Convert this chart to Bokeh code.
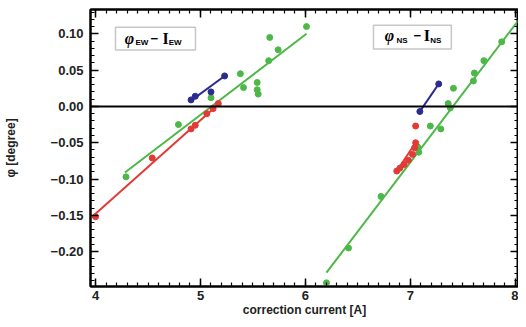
from bokeh.plotting import figure
from bokeh.models import (Range1d, LinearAxis, SingleIntervalTicker, Span,
                          BoxAnnotation, Label, CustomJSTickFormatter)
from bokeh.embed import file_html
from bokeh.resources import INLINE

# ---------------- data ----------------
# EW measurements
ew_red_x = [4.00, 4.54, 4.91, 4.95, 5.06, 5.12, 5.17]
ew_red_y = [-0.152, -0.071, -0.031, -0.026, -0.010, -0.003, 0.004]
ew_blue_x = [4.91, 4.95, 5.10, 5.23]
ew_blue_y = [0.009, 0.014, 0.020, 0.042]
ew_green_x = [4.29, 4.79, 5.10, 5.38, 5.41, 5.54, 5.54, 5.55, 5.65, 5.66, 5.74, 6.01]
ew_green_y = [-0.097, -0.025, 0.012, 0.045, 0.026, 0.033, 0.023, 0.017, 0.063, 0.095, 0.078, 0.110]

# NS measurements
ns_red_x = [6.87, 6.90, 6.94, 6.98, 7.02, 7.04, 7.05, 7.05]
ns_red_y = [-0.089, -0.085, -0.080, -0.074, -0.066, -0.057, -0.050, -0.027]
ns_blue_x = [7.09, 7.27]
ns_blue_y = [-0.007, 0.031]
ns_green_x = [6.20, 6.41, 6.72, 7.07, 7.08, 7.19, 7.29, 7.36, 7.38, 7.41, 7.60, 7.61, 7.70, 7.87, 8.09]
ns_green_y = [-0.243, -0.195, -0.124, -0.056, -0.063, -0.027, -0.031, 0.004, -0.002, 0.025,
              0.035, 0.046, 0.063, 0.089, 0.109]

# fitted lines (end points)
fit_ew_red_x = [3.96, 5.17]
fit_ew_red_y = [-0.153, 0.003]
fit_ew_blue_x = [4.91, 5.23]
fit_ew_blue_y = [0.008, 0.042]
fit_ew_green_x = [4.28, 6.01]
fit_ew_green_y = [-0.091, 0.100]
fit_ns_red_x = [6.86, 7.05]
fit_ns_red_y = [-0.091, -0.050]
fit_ns_blue_x = [7.09, 7.27]
fit_ns_blue_y = [-0.007, 0.031]
fit_ns_green_x = [6.20, 8.10]
fit_ns_green_y = [-0.229, 0.132]

x_label = "correction current [A]"
y_label = "φ [degree]"

RED = "#e23a36"
GREEN = "#4db848"
BLUE = "#2c2c8e"
FONT = "Liberation Sans"

p = figure(width=518, height=319,
           x_range=Range1d(3.952, 8.03), y_range=Range1d(-0.248, 0.1335),
           output_backend="svg", toolbar_location=None,
           min_border_left=90, min_border_top=9, min_border_right=0, min_border_bottom=0)
p.xgrid.visible = False
p.ygrid.visible = False
p.outline_line_color = "black"
p.outline_line_width = 2
p.background_fill_color = "white"
p.border_fill_color = "white"

xt = SingleIntervalTicker(interval=1, num_minor_ticks=10)
yt = SingleIntervalTicker(interval=0.05, num_minor_ticks=5)

def style_axis(ax, labels=True):
    ax.axis_line_color = "black"
    ax.axis_line_width = 2
    ax.major_tick_in = 8
    ax.major_tick_out = 0
    ax.minor_tick_in = 4
    ax.minor_tick_out = 0
    ax.major_tick_line_width = 1.5
    ax.minor_tick_line_width = 1.2
    ax.major_tick_line_color = "black"
    ax.minor_tick_line_color = "black"
    if labels:
        ax.major_label_text_font = FONT
        ax.major_label_text_font_style = "bold"
        ax.major_label_text_font_size = "13px"
        ax.major_label_text_color = "#222222"
        ax.major_label_text_line_height = 1.0
        ax.axis_label_text_font = FONT
        ax.axis_label_text_font_style = "bold"
        ax.axis_label_text_font_size = "12px"
        ax.axis_label_text_color = "#222222"
        ax.axis_label_text_line_height = 1.0
    else:
        ax.formatter = CustomJSTickFormatter(code="return '';")
        ax.major_label_standoff = 0
        ax.axis_label_standoff = 0

p.xaxis.ticker = xt
p.yaxis.ticker = yt
style_axis(p.xaxis[0])
style_axis(p.yaxis[0])
p.xaxis.axis_label = x_label
p.yaxis.axis_label = y_label
p.xaxis.major_label_standoff = 4
p.xaxis.axis_label_standoff = 0
p.yaxis.major_label_standoff = 7
p.yaxis.axis_label_standoff = 30
p.yaxis.formatter = CustomJSTickFormatter(code="return tick.toFixed(2).replace('-', '\u2212');")

top_ax = LinearAxis(ticker=xt)
right_ax = LinearAxis(ticker=yt)
style_axis(top_ax, labels=False)
style_axis(right_ax, labels=False)
p.add_layout(top_ax, "above")
p.add_layout(right_ax, "right")

# zero line
p.add_layout(Span(location=0, dimension="width", line_color="black", line_width=2))

# fit lines
for fx, fy, c in [(fit_ew_red_x, fit_ew_red_y, RED), (fit_ew_green_x, fit_ew_green_y, GREEN),
                  (fit_ew_blue_x, fit_ew_blue_y, BLUE), (fit_ns_red_x, fit_ns_red_y, RED),
                  (fit_ns_green_x, fit_ns_green_y, GREEN), (fit_ns_blue_x, fit_ns_blue_y, BLUE)]:
    p.line(fx, fy, line_color=c, line_width=2)

# points
for sx, sy, c in [(ew_green_x, ew_green_y, GREEN), (ew_red_x, ew_red_y, RED),
                  (ew_blue_x, ew_blue_y, BLUE), (ns_green_x, ns_green_y, GREEN),
                  (ns_red_x, ns_red_y, RED), (ns_blue_x, ns_blue_y, BLUE)]:
    p.scatter(sx, sy, marker="circle", size=6, fill_color=c, line_color=c)

# legend boxes
def legend_box(left, right, top, bottom, xs, y_main, y_sub, sub):
    p.add_layout(BoxAnnotation(left=left, right=right, top=top, bottom=bottom,
                               fill_color="white", fill_alpha=1.0,
                               line_color="#444444", line_width=1.5))
    phi_x, sub1_x, minus_x, i_x, sub2_x = xs
    p.add_layout(Label(x=phi_x, y=y_main, text="φ", text_font="Liberation Serif",
                       text_font_style="bold italic", text_font_size="16px",
                       text_align="center", text_baseline="middle", text_color="black"))
    p.add_layout(Label(x=sub1_x, y=y_sub, text=sub, text_font=FONT,
                       text_font_style="bold", text_font_size="8px",
                       text_align="left", text_baseline="middle", text_color="black"))
    p.add_layout(Label(x=minus_x, y=y_main, text="−", text_font=FONT,
                       text_font_style="bold", text_font_size="13px",
                       text_align="center", text_baseline="middle", text_color="black"))
    p.add_layout(Label(x=i_x, y=y_main, text="I", text_font="Liberation Serif",
                       text_font_style="bold", text_font_size="16px",
                       text_align="center", text_baseline="middle", text_color="black"))
    p.add_layout(Label(x=sub2_x, y=y_sub, text=sub, text_font=FONT,
                       text_font_style="bold", text_font_size="8px",
                       text_align="left", text_baseline="middle", text_color="black"))

legend_box(4.190, 4.952, 0.109, 0.0777, (4.324, 4.381, 4.560, 4.667, 4.697), 0.094, 0.0886, "EW")
legend_box(6.648, 7.390, 0.1117, 0.0790, (6.800, 6.867, 7.065, 7.157, 7.190), 0.0981, 0.0913, "NS")

open("out.html", "w").write(file_html(p, INLINE))
